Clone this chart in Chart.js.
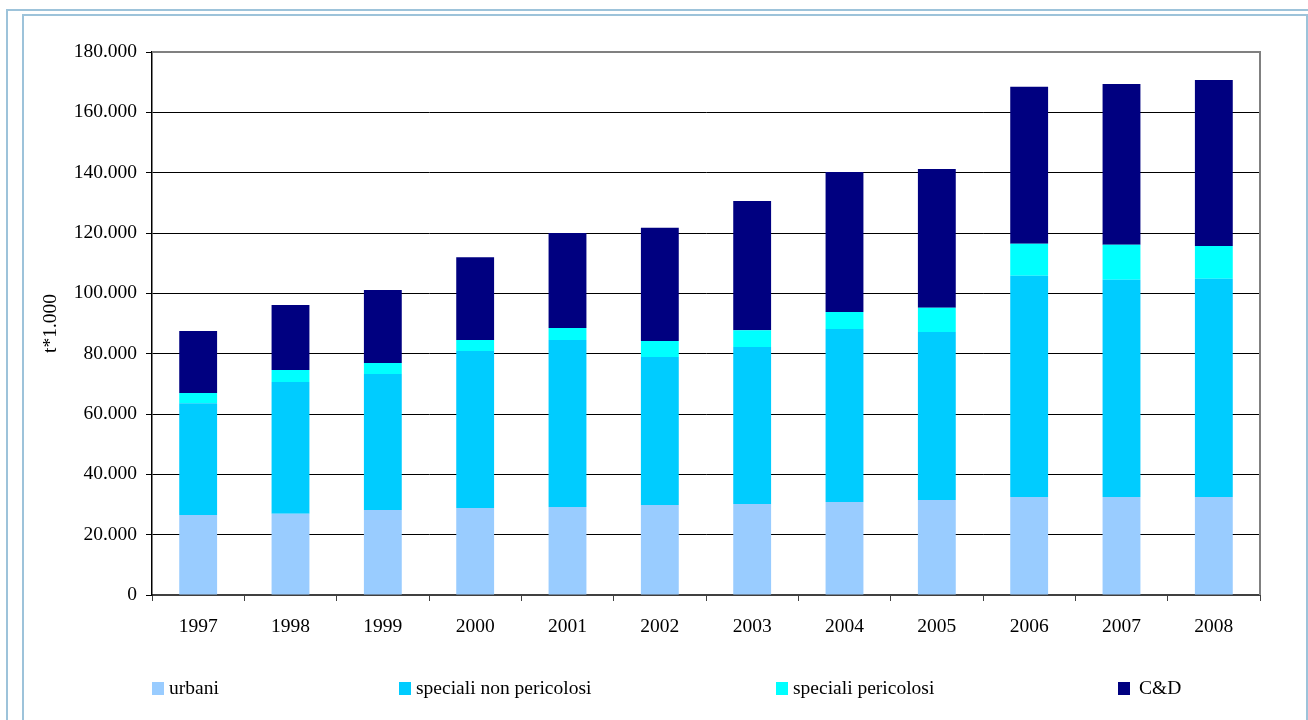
<!DOCTYPE html>
<html>
<head>
<meta charset="utf-8">
<script src="https://cdn.jsdelivr.net/npm/chart.js@4/dist/chart.umd.min.js"></script>
<style>
  html, body { margin: 0; padding: 0; background: #fff; overflow: hidden; }
  #wrap { position: relative; width: 1308px; height: 720px; }
  #myChart { position: absolute; left: 0; top: 0; }
  .frame { position: absolute; border-color: #9dc3da; border-style: solid; }
  .leg { position: absolute; top: 676px; font-family: "Liberation Serif", "Times New Roman", serif; font-size: 19.5px; color: #000; white-space: nowrap; line-height: 24px; }
  .leg span.box { display: inline-block; width: 12px; height: 13px; vertical-align: -1px; }
</style>
</head>
<body>
<div id="wrap">
  <div class="frame" style="left:6px; top:9px; right:0; bottom:0; border-width:2px 0 0 2px;"></div>
  <div class="frame" style="left:22px; top:14px; width:1282px; bottom:0; border-width:2px 2px 0 2px;"></div>
  <canvas id="myChart" width="1308" height="720"></canvas>
  <div id="legend"></div>
</div>
<script>
  // dati (t*1000)
  const anni = ['1997', '1998', '1999', '2000', '2001', '2002', '2003', '2004', '2005', '2006', '2007', '2008'];
  const urbani = [26500, 26900, 28200, 28800, 29200, 29800, 30200, 30800, 31500, 32500, 32500, 32500];
  const specialiNonPericolosi = [37100, 43700, 45100, 52100, 55300, 49100, 52000, 57400, 55700, 73300, 72000, 72300];
  const specialiPericolosi = [3400, 4000, 3600, 3600, 4000, 5300, 5600, 5600, 8000, 10600, 11600, 10900];
  const cd = [20500, 21500, 24200, 27500, 31500, 37500, 42800, 46400, 46000, 52100, 53300, 55000];

  const nomiSerie = ['urbani', 'speciali non pericolosi', 'speciali pericolosi', 'C&D'];
  const colori = ['#99ccff', '#00ccff', '#00ffff', '#000080'];

  const fonte = { family: '"Liberation Serif", "Times New Roman", serif', size: 19.5 };

  // formato italiano: 20000 -> 20.000
  function formatta(v) {
    return String(v).replace(/\B(?=(\d{3})+(?!\d))/g, '.');
  }

  // bordo grigio sopra e a destra dell'area del grafico (come Excel)
  const bordoArea = {
    id: 'bordoArea',
    afterDraw(chart) {
      const { ctx, chartArea } = chart;
      ctx.save();
      ctx.strokeStyle = '#808080';
      ctx.lineWidth = 2;
      ctx.beginPath();
      ctx.moveTo(chartArea.left, chartArea.top);
      ctx.lineTo(chartArea.right, chartArea.top);
      ctx.lineTo(chartArea.right, chartArea.bottom);
      ctx.stroke();
      ctx.restore();
    }
  };

  const serie = [urbani, specialiNonPericolosi, specialiPericolosi, cd];

  const chartData = {
    labels: anni,
    datasets: serie.map((valori, i) => ({
      label: nomiSerie[i],
      data: valori,
      backgroundColor: colori[i],
      borderWidth: 0,
      barPercentage: 0.41,
      categoryPercentage: 1
    }))
  };

  const config = {
    type: 'bar',
    data: chartData,
    options: {
      responsive: false,
      animation: false,
      layout: { padding: { left: 25, top: 52, right: 48, bottom: 0 } },
      plugins: {
        legend: { display: false },
        tooltip: { enabled: false }
      },
      scales: {
        x: {
          stacked: true,
          afterFit: (scale) => { scale.height = 125; },
          grid: { drawOnChartArea: false, tickLength: 6, color: '#404040', lineWidth: 1 },
          border: { color: '#404040', width: 2 },
          ticks: { color: '#000', font: fonte, padding: 14, maxRotation: 0 }
        },
        y: {
          stacked: true,
          min: 0,
          max: 180000,
          afterFit: (scale) => { scale.width = 127; },
          grid: { color: '#000', lineWidth: 1, tickLength: 6 },
          border: { color: '#000', width: 1.5 },
          ticks: {
            stepSize: 20000,
            color: '#000',
            font: fonte,
            padding: 9,
            callback: (v) => formatta(v)
          },
          title: {
            display: true,
            text: 't*1.000',
            color: '#000',
            font: fonte,
            padding: { top: 14, bottom: 0 }
          }
        }
      }
    },
    plugins: [bordoArea]
  };

  new Chart(document.getElementById('myChart').getContext('2d'), config);

  // legenda in stile Excel, voci distribuite sulla riga
  const posLegenda = [152, 399, 776, 1118];
  const legenda = document.getElementById('legend');
  nomiSerie.forEach((nome, i) => {
    const d = document.createElement('div');
    d.className = 'leg';
    d.style.left = posLegenda[i] + 'px';
    const box = document.createElement('span');
    box.className = 'box';
    box.style.background = colori[i];
    box.style.marginRight = (i === 3 ? 9 : 5) + 'px';
    d.appendChild(box);
    d.appendChild(document.createTextNode(nome));
    legenda.appendChild(d);
  });
</script>
</body>
</html>
